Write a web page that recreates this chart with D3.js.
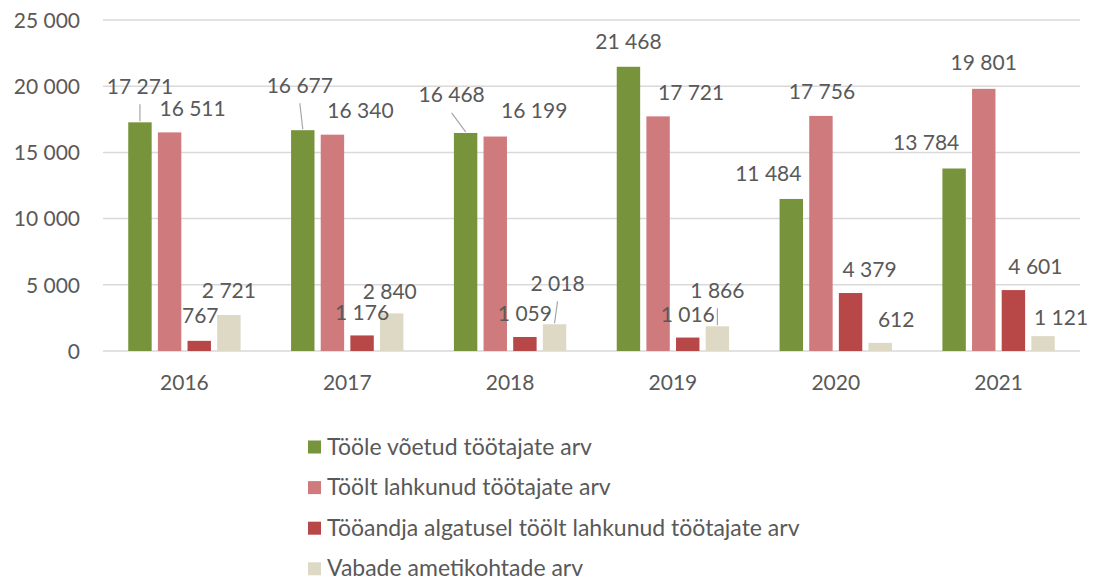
<!DOCTYPE html>
<html><head><meta charset="utf-8">
<script src="https://cdn.jsdelivr.net/npm/d3@7"></script>
<style>
html,body{margin:0;padding:0;background:#fff;}
svg{display:block;font-family:Lato, "Open Sans", sans-serif;}
</style></head>
<body><svg id="c" width="1094" height="582"></svg>
<script>
const years = ["2016","2017","2018","2019","2020","2021"];
const seriesNames = ["Tööle võetud töötajate arv","Töölt lahkunud töötajate arv","Tööandja algatusel töölt lahkunud töötajate arv","Vabade ametikohtade arv"];
const hired = [17271,16677,16468,21468,11484,13784];
const left = [16511,16340,16199,17721,17756,19801];
const dismissed = [767,1176,1059,1016,4379,4601];
const vacancies = [2721,2840,2018,1866,612,1121];
const yTicks = [0,5000,10000,15000,20000,25000];
const colors = ["#77933c","#cf7b7d","#b84848","#ddd9c4"];
// label offsets (dx from bar centre, dy of label centre from bar top)
const labelDx = [[0,-3,-14,0,-23,-28],[23,28,39,33,1,0],[1,0,0,0,19,22],[0,-2,3,0,16,18]];
const labelDy = [[-36,-45,-38,-25,-25,-26],[-24,-24,-26,-24,-24,-26],[-25,-23,-23,-23,-23,-23],[-24,-22,-41,-36,-23,-19]];
const leaders = [[0,0],[0,1],[0,2],[3,2],[3,3]];

const values = [hired,left,dismissed,vacancies];
const fmt = v => d3.format(",")(v).replace(/,/g," ");
const svg = d3.select("#c");
const textColor = "#595959";

const x0 = d3.scaleBand().domain(years).range([103,1080]).paddingInner(0.31).paddingOuter(0.155);
const x1 = d3.scaleBand().domain(d3.range(4)).range([0,x0.bandwidth()]).paddingInner(0.21);
const y = d3.scaleLinear().domain([0,25000]).range([351,20]);

// gridlines
svg.append("g").selectAll("line").data(yTicks).join("line")
  .attr("x1",103).attr("x2",1080)
  .attr("y1",d=>y(d)).attr("y2",d=>y(d))
  .attr("stroke","#d9d9d9").attr("stroke-width",1.5);

// y axis labels
const yAxis = d3.axisLeft(y).tickValues(yTicks).tickFormat(fmt).tickSize(0).tickPadding(0);
const ga = svg.append("g").attr("transform","translate(80,0)").call(yAxis);
ga.select(".domain").remove();
ga.selectAll("text").attr("fill",textColor).style("font-size","21px").style("font-family","Lato").attr("dy","0.35em");

// x axis labels
const xAxis = d3.axisBottom(x0).tickSize(0).tickPadding(0);
const gx = svg.append("g").attr("transform","translate(0,376)").call(xAxis);
gx.select(".domain").remove();
gx.selectAll("text").attr("fill",textColor).style("font-size","21px").style("font-family","Lato").attr("dy","0.35em").attr("y",7);

// bars
const groups = svg.append("g").selectAll("g").data(years).join("g")
  .attr("transform",d=>`translate(${x0(d)},0)`);
groups.selectAll("rect").data((d,i)=>values.map((arr,s)=>({s,i,v:arr[i]}))).join("rect")
  .attr("x",d=>x1(d.s)).attr("width",x1.bandwidth())
  .attr("y",d=>y(d.v)).attr("height",d=>y(0)-y(d.v))
  .attr("fill",d=>colors[d.s]);

// labels
const labels = [];
values.forEach((arr,s)=>arr.forEach((v,i)=>{
  const bx = x0(years[i]) + x1(s) + x1.bandwidth()/2;
  const top = y(v);
  labels.push({s,i,v,bx,top,lx:bx+labelDx[s][i],ly:top+labelDy[s][i]});
}));
const lk = (s,i)=>labels.find(l=>l.s===s&&l.i===i);
svg.append("g").selectAll("line").data(leaders.map(([s,i])=>lk(s,i))).join("line")
  .attr("x1",d=>d.lx).attr("y1",d=>d.ly+18)
  .attr("x2",d=>d.bx).attr("y2",d=>d.top-1)
  .attr("stroke","#a6a6a6").attr("stroke-width",1.2);
svg.append("g").selectAll("text").data(labels).join("text")
  .attr("x",d=>d.lx).attr("y",d=>d.ly).attr("dy","0.35em")
  .attr("text-anchor","middle").attr("fill",textColor)
  .style("font-size","21px").text(d=>fmt(d.v));

// legend
const leg = svg.append("g").selectAll("g").data(seriesNames).join("g")
  .attr("transform",(d,i)=>`translate(308,${447+i*40.6})`);
leg.append("rect").attr("x",0).attr("y",-6.5).attr("width",13).attr("height",13).attr("fill",(d,i)=>colors[i]);
leg.append("text").attr("x",19).attr("dy","0.33em").attr("fill",textColor).style("font-size","23px").text(d=>d);
</script></body></html>
